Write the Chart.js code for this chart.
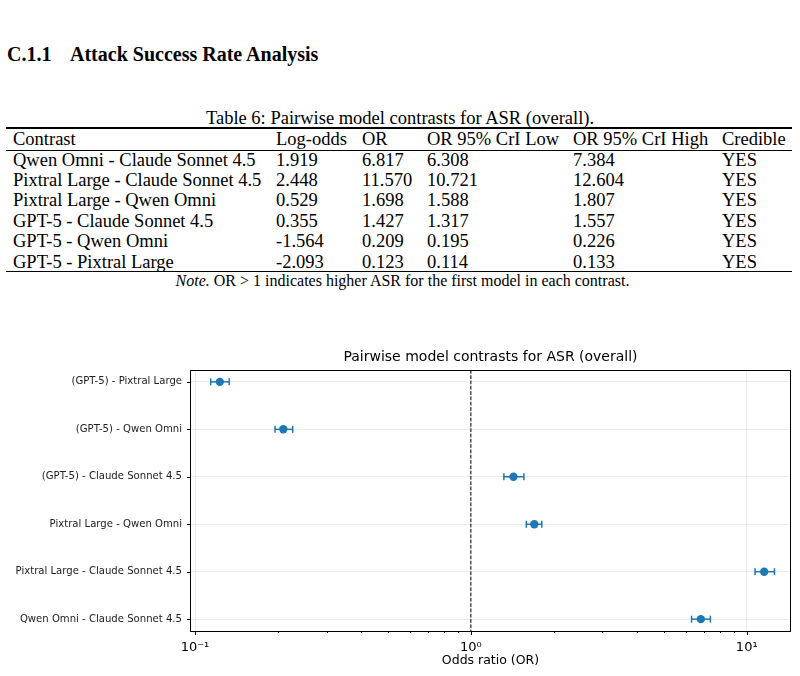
<!DOCTYPE html>
<html>
<head>
<meta charset="utf-8">
<script src="https://cdn.jsdelivr.net/npm/chart.js@4.4.1/dist/chart.umd.min.js"></script>
<style>
  html, body { margin: 0; padding: 0; background: #fff; }
  #page { position: relative; width: 800px; height: 676px; overflow: hidden; color: #000;
          font-family: 'Liberation Serif', 'Times New Roman', serif; }
  .heading { position: absolute; top: 44px; font-weight: bold; font-size: 20px; line-height: 20px; white-space: nowrap; }
  .caption { position: absolute; left: 0; top: 108px; width: 800px; text-align: center;
             font-size: 18.5px; line-height: 20px; white-space: nowrap; }
  .rule { position: absolute; left: 6px; width: 786px; background: #000; }
  .cell { position: absolute; font-size: 18.5px; line-height: 20px; white-space: nowrap; }
  .note { position: absolute; left: 0; top: 273px; width: 805px; text-align: center;
          font-size: 16px; line-height: 16px; white-space: nowrap; }
  #chartBox { position: absolute; left: 0; top: 340px; width: 800px; height: 336px; }
</style>
</head>
<body>
<div id="page">
  <div class="heading" style="left:7px">C.1.1</div>
  <div class="heading" style="left:70px">Attack Success Rate Analysis</div>
  <div class="caption">Table 6: Pairwise model contrasts for ASR (overall).</div>
  <div class="rule" style="top:127.3px;height:1.4px"></div>
  <div class="rule" style="top:149.6px;height:0.9px"></div>
  <div class="rule" style="top:270.6px;height:1.4px"></div>
  <div id="tableCells"></div>
  <div class="note"><i>Note.</i> OR &gt; 1 indicates higher ASR for the first model in each contrast.</div>
  <div id="chartBox"><canvas id="forest" width="800" height="336"></canvas></div>
</div>
<script>
// table 6 (as printed)
const tableHeader = ['Contrast', 'Log-odds', 'OR', 'OR 95% CrI Low', 'OR 95% CrI High', 'Credible'];
const tableContrast = ['Qwen Omni - Claude Sonnet 4.5', 'Pixtral Large - Claude Sonnet 4.5', 'Pixtral Large - Qwen Omni',
                       'GPT-5 - Claude Sonnet 4.5', 'GPT-5 - Qwen Omni', 'GPT-5 - Pixtral Large'];
const tableLogOdds = ['1.919', '2.448', '0.529', '0.355', '-1.564', '-2.093'];
const tableOR = ['6.817', '11.570', '1.698', '1.427', '0.209', '0.123'];
const tableLow = ['6.308', '10.721', '1.588', '1.317', '0.195', '0.114'];
const tableHigh = ['7.384', '12.604', '1.807', '1.557', '0.226', '0.133'];
const tableCredible = ['YES', 'YES', 'YES', 'YES', 'YES', 'YES'];

// forest plot, top to bottom
const contrasts = ['(GPT-5) - Pixtral Large', '(GPT-5) - Qwen Omni', '(GPT-5) - Claude Sonnet 4.5',
                   'Pixtral Large - Qwen Omni', 'Pixtral Large - Claude Sonnet 4.5', 'Qwen Omni - Claude Sonnet 4.5'];
const oddsRatio = [0.123, 0.209, 1.427, 1.698, 11.570, 6.817];
const criLow = [0.114, 0.195, 1.317, 1.588, 10.721, 6.308];
const criHigh = [0.133, 0.226, 1.557, 1.807, 12.604, 7.384];
const xTickValues = [0.1, 0.2, 0.3, 0.4, 0.5, 0.6, 0.7, 0.8, 0.9, 1, 2, 3, 4, 5, 6, 7, 8, 9, 10];
const xMajorTicks = [0.1, 1, 10];
const xMajorLabels = ['10\u207B\u00B9', '10\u2070', '10\u00B9'];

// build the table
const colLeft = [13, 276, 362, 427, 573, 722];
const cells = document.getElementById('tableCells');
function addRow(values, center) {
  values.forEach((v, c) => {
    const d = document.createElement('div');
    d.className = 'cell';
    d.style.left = colLeft[c] + 'px';
    d.style.top = (center - 10) + 'px';
    d.textContent = v;
    cells.appendChild(d);
  });
}
addRow(tableHeader, 139);
tableContrast.forEach((c, i) => {
  addRow([c, tableLogOdds[i], tableOR[i], tableLow[i], tableHigh[i], tableCredible[i]], 159.5 + i * 20.4);
});

const blue = '#1f77b4';
const gridColor = 'rgba(0,0,0,0.08)';

const errorBars = contrasts.map((c, i) => ({
  data: [{ x: criLow[i], y: i }, { x: criHigh[i], y: i }],
  showLine: true,
  borderColor: blue,
  borderWidth: 1.5,
  pointStyle: 'line',
  rotation: 90,
  pointRadius: 3.5,
  pointBorderWidth: 1.5,
  pointBorderColor: blue,
  order: 1
}));

const axisFrame = {
  id: 'axisFrame',
  afterDraw(chart) {
    const { ctx, chartArea: a, scales: { x, y } } = chart;
    ctx.save();
    ctx.strokeStyle = '#000';
    ctx.lineWidth = 1;
    ctx.strokeRect(Math.round(a.left) - 0.5, Math.round(a.top) + 0.5,
                   Math.round(a.right - a.left) + 1, Math.round(a.bottom - a.top));
    ctx.beginPath();
    x.ticks.forEach(t => {
      const px = Math.round(x.getPixelForValue(t.value)) + 0.5;
      const len = xMajorTicks.includes(t.value) ? 4 : 2;
      ctx.moveTo(px, Math.round(a.bottom));
      ctx.lineTo(px, Math.round(a.bottom) + len);
    });
    y.ticks.forEach(t => {
      const py = Math.round(y.getPixelForValue(t.value)) + 0.5;
      ctx.moveTo(Math.round(a.left) - 4, py);
      ctx.lineTo(Math.round(a.left), py);
    });
    ctx.stroke();
    ctx.restore();
  }
};

new Chart(document.getElementById('forest'), {
  type: 'scatter',
  data: {
    datasets: [
      {
        data: contrasts.map((c, i) => ({ x: oddsRatio[i], y: i })),
        backgroundColor: blue,
        borderWidth: 0,
        pointRadius: 4.2,
        order: 0
      },
      ...errorBars,
      {
        data: [{ x: 1, y: -0.25 }, { x: 1, y: 5.25 }],
        showLine: true,
        borderColor: '#000',
        borderWidth: 1,
        borderDash: [3.7, 1.6],
        pointRadius: 0,
        order: 2
      }
    ]
  },
  options: {
    responsive: false,
    animation: false,
    devicePixelRatio: 1,
    layout: { padding: { left: 0, right: 10, top: 0, bottom: 0 } },
    plugins: {
      legend: { display: false },
      tooltip: { enabled: false },
      title: {
        display: true,
        fullSize: false,
        text: 'Pairwise model contrasts for ASR (overall)',
        color: '#000',
        font: { family: 'DejaVu Sans', size: 14, weight: 'normal' },
        padding: { top: 9, bottom: 4.2 }
      }
    },
    scales: {
      x: {
        type: 'logarithmic',
        min: 0.0967,
        max: 14.35,
        afterBuildTicks: s => { s.ticks = xTickValues.map(v => ({ value: v, major: xMajorTicks.includes(v) })); },
        afterFit: s => { s.height = 45; },
        grid: {
          drawTicks: false,
          color: ctx => (ctx.tick && xMajorTicks.includes(ctx.tick.value)) ? gridColor : 'rgba(0,0,0,0)'
        },
        border: { display: false },
        ticks: {
          autoSkip: false,
          maxRotation: 0,
          padding: 9,
          color: '#000',
          font: { family: 'DejaVu Sans', size: 13 },
          callback: v => {
            const k = xMajorTicks.indexOf(v);
            return k >= 0 ? xMajorLabels[k] : '';
          }
        },
        title: {
          display: true,
          text: 'Odds ratio (OR)',
          color: '#000',
          font: { family: 'DejaVu Sans', size: 12.5 },
          padding: { top: 0, bottom: 7.5 }
        }
      },
      y: {
        type: 'linear',
        reverse: true,
        min: -0.25,
        max: 5.25,
        afterBuildTicks: s => { s.ticks = contrasts.map((c, i) => ({ value: i })); },
        afterFit: s => { s.width = 191; },
        grid: { drawTicks: false, color: gridColor },
        border: { display: false },
        ticks: {
          autoSkip: false,
          padding: 9,
          color: '#222',
          font: { family: 'DejaVu Sans', size: 10.1 },
          callback: v => contrasts[v]
        }
      }
    }
  },
  plugins: [axisFrame]
});
</script>
</body>
</html>
